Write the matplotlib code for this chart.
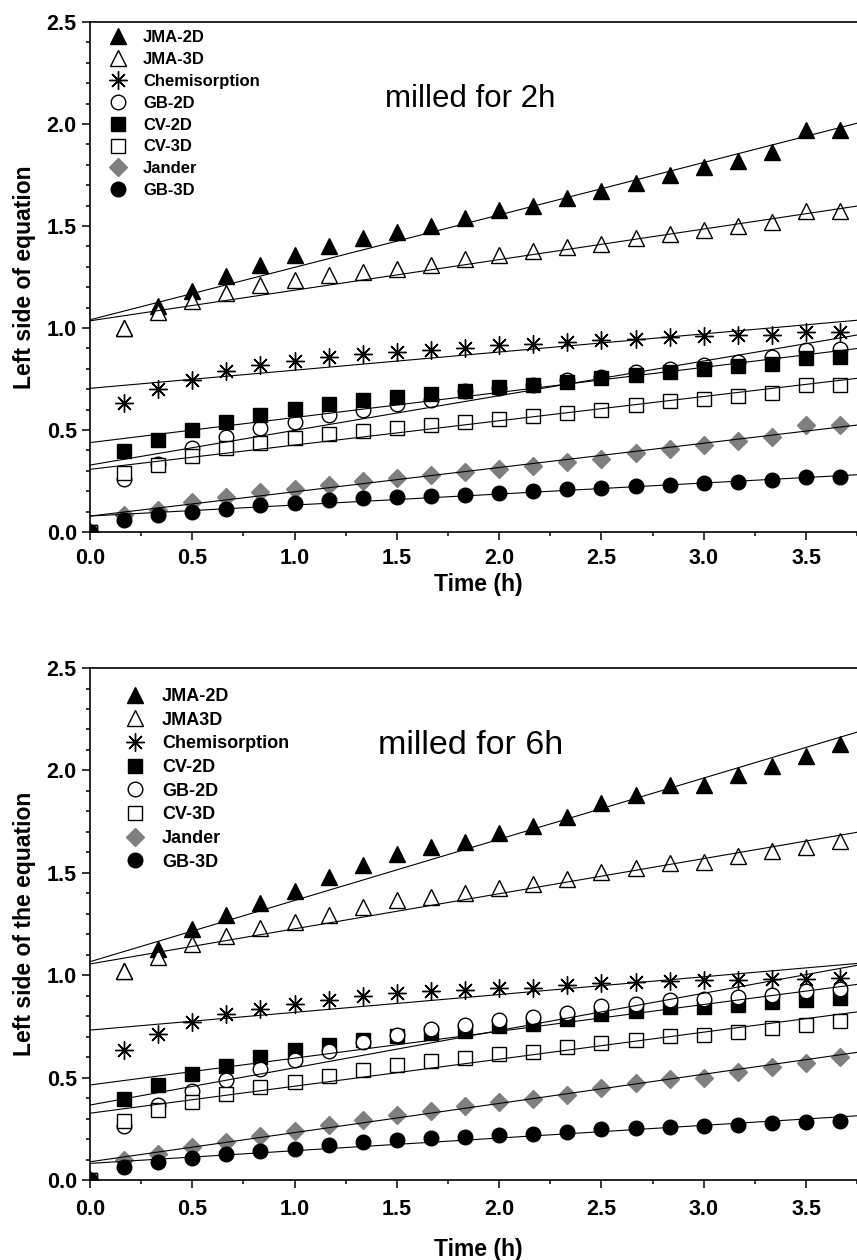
import matplotlib
matplotlib.use("Agg")
import matplotlib.pyplot as plt
import numpy as np
from matplotlib.ticker import MultipleLocator

plt.rcParams['font.family'] = ['Liberation Sans', 'DejaVu Sans']

time_h = [0.0, 0.167, 0.333, 0.5, 0.667, 0.833, 1.0, 1.167, 1.333, 1.5, 1.667, 1.833,
          2.0, 2.167, 2.333, 2.5, 2.667, 2.833, 3.0, 3.167, 3.333, 3.5, 3.667]

# milled for 2h
jma2d_2h = [0, 1.00, 1.11, 1.18, 1.255, 1.31, 1.36, 1.40, 1.44, 1.47, 1.50, 1.54, 1.58, 1.60,
            1.635, 1.67, 1.71, 1.75, 1.79, 1.82, 1.86, 1.97, 1.97]
jma3d_2h = [0, 1.00, 1.08, 1.13, 1.17, 1.21, 1.235, 1.26, 1.275, 1.29, 1.31, 1.34, 1.36, 1.375,
            1.395, 1.41, 1.44, 1.46, 1.48, 1.50, 1.52, 1.575, 1.575]
chem_2h = [0, 0.63, 0.70, 0.745, 0.79, 0.82, 0.84, 0.86, 0.87, 0.88, 0.89, 0.90, 0.915, 0.92,
           0.93, 0.94, 0.945, 0.955, 0.96, 0.965, 0.965, 0.98, 0.98]
gb2d_2h = [0, 0.26, 0.335, 0.41, 0.465, 0.51, 0.54, 0.575, 0.60, 0.625, 0.645, 0.69, 0.705, 0.72,
           0.745, 0.76, 0.785, 0.80, 0.82, 0.835, 0.86, 0.89, 0.895]
cv2d_2h = [0, 0.395, 0.45, 0.50, 0.54, 0.575, 0.605, 0.625, 0.645, 0.66, 0.675, 0.69, 0.71, 0.72,
           0.735, 0.755, 0.77, 0.785, 0.80, 0.815, 0.825, 0.855, 0.86]
cv3d_2h = [0, 0.29, 0.33, 0.37, 0.41, 0.435, 0.46, 0.48, 0.495, 0.51, 0.525, 0.54, 0.555, 0.57,
           0.585, 0.60, 0.62, 0.64, 0.65, 0.665, 0.68, 0.72, 0.72]
jander_2h = [0, 0.085, 0.11, 0.145, 0.17, 0.195, 0.21, 0.23, 0.25, 0.265, 0.277, 0.295, 0.31, 0.325,
             0.345, 0.36, 0.385, 0.405, 0.425, 0.445, 0.465, 0.525, 0.525]
gb3d_2h = [0, 0.06, 0.085, 0.10, 0.115, 0.13, 0.14, 0.155, 0.165, 0.17, 0.175, 0.18, 0.19, 0.20,
           0.21, 0.215, 0.225, 0.23, 0.24, 0.245, 0.255, 0.268, 0.268]

# milled for 6h
jma2d_6h = [0, 1.02, 1.13, 1.225, 1.295, 1.355, 1.41, 1.48, 1.54, 1.59, 1.627, 1.652, 1.693, 1.73,
            1.775, 1.84, 1.88, 1.93, 1.93, 1.98, 2.02, 2.07, 2.13]
jma3d_6h = [0, 1.02, 1.09, 1.15, 1.19, 1.23, 1.26, 1.295, 1.335, 1.365, 1.38, 1.40, 1.425, 1.445,
            1.47, 1.505, 1.525, 1.55, 1.555, 1.58, 1.605, 1.627, 1.657]
chem_6h = [0, 0.635, 0.715, 0.77, 0.81, 0.835, 0.86, 0.88, 0.90, 0.915, 0.925, 0.93, 0.94, 0.94,
           0.95, 0.96, 0.965, 0.97, 0.975, 0.975, 0.98, 0.98, 0.985]
cv2d_6h = [0, 0.395, 0.465, 0.52, 0.555, 0.60, 0.635, 0.66, 0.685, 0.705, 0.72, 0.73, 0.75, 0.76,
           0.785, 0.81, 0.825, 0.845, 0.845, 0.855, 0.87, 0.88, 0.89]
gb2d_6h = [0, 0.265, 0.365, 0.435, 0.49, 0.54, 0.585, 0.63, 0.675, 0.71, 0.735, 0.755, 0.78, 0.795,
           0.815, 0.85, 0.86, 0.88, 0.885, 0.895, 0.905, 0.925, 0.935]
cv3d_6h = [0, 0.29, 0.34, 0.38, 0.42, 0.455, 0.48, 0.51, 0.535, 0.56, 0.58, 0.595, 0.615, 0.625,
           0.65, 0.67, 0.685, 0.705, 0.71, 0.725, 0.74, 0.755, 0.775]
jander_6h = [0, 0.10, 0.125, 0.16, 0.185, 0.215, 0.24, 0.27, 0.295, 0.315, 0.335, 0.36, 0.38, 0.395,
             0.415, 0.45, 0.475, 0.495, 0.50, 0.525, 0.55, 0.57, 0.60]
gb3d_6h = [0, 0.065, 0.09, 0.105, 0.125, 0.14, 0.15, 0.17, 0.185, 0.195, 0.203, 0.208, 0.22, 0.225,
           0.235, 0.248, 0.252, 0.26, 0.264, 0.27, 0.277, 0.285, 0.29]

# linear fits: (intercept, slope)
fits_2h = {'jma2d': (1.04, 0.257), 'jma3d': (1.035, 0.150), 'chem': (0.704, 0.089),
           'gb2d': (0.328, 0.170), 'cv2d': (0.438, 0.123), 'cv3d': (0.307, 0.119),
           'jander': (0.078, 0.119), 'gb3d': (0.078, 0.054)}
fits_6h = {'jma2d': (1.066, 0.299), 'jma3d': (1.055, 0.1715), 'chem': (0.732, 0.0868),
           'cv2d': (0.464, 0.131), 'gb2d': (0.366, 0.182), 'cv3d': (0.326, 0.132),
           'jander': (0.089, 0.1425), 'gb3d': (0.081, 0.062)}

labels_2h = ['JMA-2D', 'JMA-3D', 'Chemisorption', 'GB-2D', 'CV-2D', 'CV-3D', 'Jander', 'GB-3D']
keys_2h = ['jma2d', 'jma3d', 'chem', 'gb2d', 'cv2d', 'cv3d', 'jander', 'gb3d']
labels_6h = ['JMA-2D', 'JMA3D', 'Chemisorption', 'CV-2D', 'GB-2D', 'CV-3D', 'Jander', 'GB-3D']
keys_6h = ['jma2d', 'jma3d', 'chem', 'cv2d', 'gb2d', 'cv3d', 'jander', 'gb3d']

data_2h = {'jma2d': jma2d_2h, 'jma3d': jma3d_2h, 'chem': chem_2h, 'gb2d': gb2d_2h,
           'cv2d': cv2d_2h, 'cv3d': cv3d_2h, 'jander': jander_2h, 'gb3d': gb3d_2h}
data_6h = {'jma2d': jma2d_6h, 'jma3d': jma3d_6h, 'chem': chem_6h, 'gb2d': gb2d_6h,
           'cv2d': cv2d_6h, 'cv3d': cv3d_6h, 'jander': jander_6h, 'gb3d': gb3d_6h}

styles = {
    'jma2d': dict(marker='^', ms=12, mfc='black', mec='black', mew=1.0),
    'jma3d': dict(marker='^', ms=12, mfc='white', mec='black', mew=1.0),
    'chem': dict(marker=(8, 2, 0), ms=13, mfc='none', mec='black', mew=1.0),
    'gb2d': dict(marker='o', ms=10.5, mfc='white', mec='black', mew=1.0),
    'cv2d': dict(marker='s', ms=9.5, mfc='black', mec='black', mew=1.0),
    'cv3d': dict(marker='s', ms=9.5, mfc='white', mec='black', mew=1.0),
    'jander': dict(marker='D', ms=9, mfc='#7f7f7f', mec='#7f7f7f', mew=1.0),
    'gb3d': dict(marker='o', ms=10.5, mfc='black', mec='black', mew=1.0),
}

XMAX = 3.8


def drawPanel(ax, keys, labels, data, fits, ylabel, note, notesize, legsize, legAnchor, legSpace,
              fig, xlabelY, tickpad):
    handles = []
    for k, lab in zip(keys, labels):
        h, = ax.plot(time_h, data[k], linestyle='none', label=lab, **styles[k])
        handles.append(h)
    xfit = np.array([0.0, XMAX])
    for k in keys:
        b, m = fits[k]
        ax.plot(xfit, b + m * xfit, color='black', linewidth=0.8, zorder=3)

    ax.set_xlim(0, XMAX)
    ax.set_ylim(0, 2.5)
    ax.xaxis.set_major_locator(MultipleLocator(0.5))
    ax.xaxis.set_minor_locator(MultipleLocator(0.25))
    ax.yaxis.set_major_locator(MultipleLocator(0.5))
    ax.yaxis.set_minor_locator(MultipleLocator(0.1))
    ax.tick_params(which='major', direction='out', length=6, width=1.1, labelsize=15.5)
    ax.tick_params(which='minor', direction='out', length=3, width=1.1)
    ax.tick_params(axis='x', which='major', pad=tickpad)
    ax.tick_params(axis='y', which='major', pad=3.5)
    ax.tick_params(top=False, right=False, which='both')
    for t in ax.get_xticklabels() + ax.get_yticklabels():
        t.set_fontweight('bold')
    ax.spines['right'].set_visible(False)
    for s in ['left', 'bottom', 'top']:
        ax.spines[s].set_linewidth(1.2)

    ax.set_xlabel('Time (h)', fontsize=16.5, fontweight='bold', va='top')
    ax.xaxis.set_label_coords(0.5, xlabelY)
    ax.set_ylabel(ylabel, fontsize=16.5, fontweight='bold')
    ax.yaxis.set_label_coords(-0.069, 0.5)

    ax.text(1.86, 2.12, note, fontsize=notesize, ha='center', va='center')

    leg = ax.legend(handles=handles, loc='upper left', bbox_to_anchor=legAnchor,
                    bbox_transform=fig.transFigure, frameon=False, borderpad=0,
                    borderaxespad=0, handlelength=1.0, handletextpad=1.0,
                    labelspacing=legSpace, numpoints=1, prop={'size': legsize, 'weight': 'bold'})
    return leg


fig = plt.figure(figsize=(8.57, 12.6), dpi=100)
axTop = fig.add_axes([0.1050, 0.5778, 0.9072, 0.4048])
axBot = fig.add_axes([0.1050, 0.0635, 0.9072, 0.4063])

drawPanel(axTop, keys_2h, labels_2h, data_2h, fits_2h, 'Left side of equation',
          'milled for 2h', 22.5, 12, (0.128, 0.9760), 0.41, fig, -0.080, 5.5)
drawPanel(axBot, keys_6h, labels_6h, data_6h, fits_6h, 'Left side of the equation',
          'milled for 6h', 24.5, 13, (0.147, 0.4540), 0.37, fig, -0.113, 7.7)

fig.savefig('out.png', dpi=100)
